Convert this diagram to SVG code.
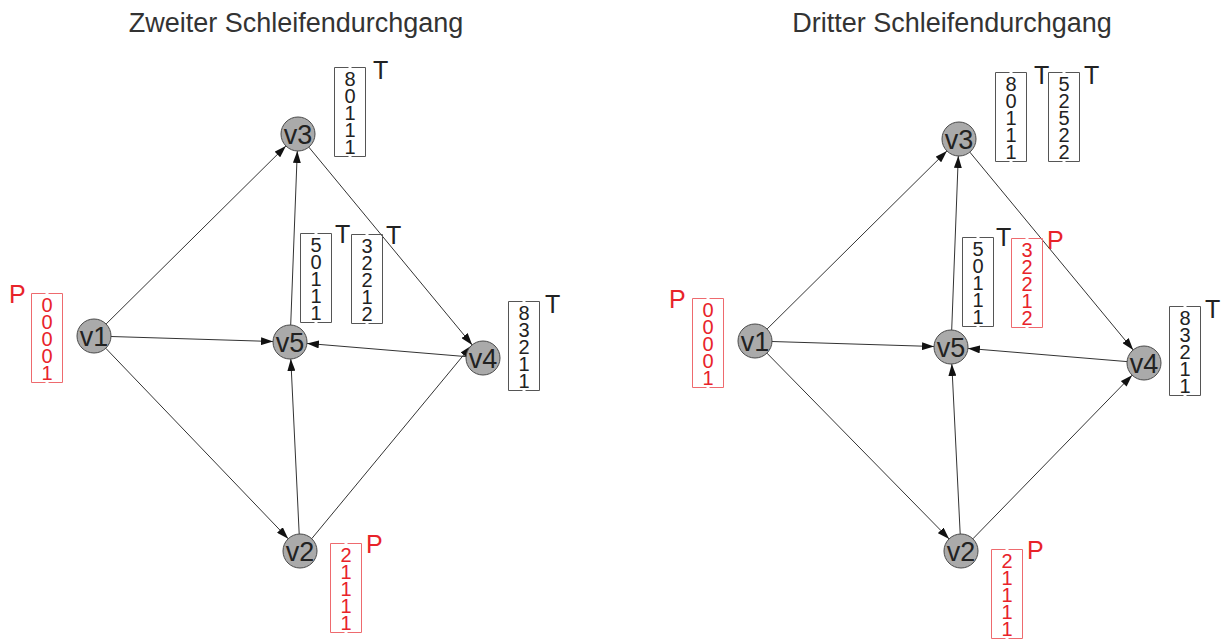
<svg xmlns="http://www.w3.org/2000/svg" width="1226" height="641" viewBox="0 0 1226 641">
  <style>
    .title { font-family: "Liberation Sans", Arial, sans-serif; font-size: 27px; fill: #333; text-anchor: middle; }
    .node circle { fill: #aaaaaa; stroke: #4a4a4a; stroke-width: 1; }
    .node text { font-family: "Liberation Sans", Arial, sans-serif; font-size: 27px; fill: #222; text-anchor: middle; }
    .edges line { stroke: #333; stroke-width: 1; marker-end: url(#arrow); }
    .vec text { font-family: "Liberation Sans", Arial, sans-serif; font-size: 20px; text-anchor: middle; }
    .vec .tag { font-size: 25px; text-anchor: start; }
    .blk { color: #555; }
    .blk text { fill: #222; }
    .red { color: #ee6a6e; }
    .red text { fill: #e8232a; }
  </style>
  <defs>
    <marker id="arrow" markerUnits="userSpaceOnUse" markerWidth="12" markerHeight="8" refX="12" refY="4" orient="auto">
      <path d="M0,0 L12,4 L0,8 Z" fill="#111"/>
    </marker>
    <!-- column-vector bracket pair, 32 x 90 -->
    <symbol id="bracket" overflow="visible">
      <path d="M14.5,0.5 H0.5 V89.5 H14.5 M17.5,0.5 H31.5 V89.5 H17.5" fill="none" stroke="currentColor" stroke-width="1"/>
    </symbol>
  </defs>

  <text class="title" x="296" y="32">Zweiter Schleifendurchgang</text>
  <text class="title" x="952" y="32">Dritter Schleifendurchgang</text>

  <!-- left graph connectors -->
  <g id="edges-left" class="edges">
    <line x1="106.1" y1="324.0" x2="285.9" y2="146.0"/>
    <line x1="111.0" y1="336.5" x2="273.0" y2="341.5"/>
    <line x1="105.8" y1="348.3" x2="288.2" y2="538.7"/>
    <line x1="308.8" y1="147.1" x2="472.2" y2="344.9"/>
    <line x1="466.1" y1="356.6" x2="306.9" y2="343.4"/>
    <line x1="290.7" y1="325.0" x2="297.3" y2="151.0"/>
    <line x1="299.2" y1="534.0" x2="290.8" y2="359.0"/>
    <line x1="311.7" y1="538.7" x2="471.3" y2="345.7"/>
  </g>

  <!-- right graph connectors -->
  <g id="edges-right" class="edges">
    <line x1="767.1" y1="329.0" x2="946.9" y2="151.0"/>
    <line x1="772.0" y1="341.5" x2="934.0" y2="346.5"/>
    <line x1="766.9" y1="353.1" x2="949.1" y2="538.9"/>
    <line x1="969.8" y1="152.1" x2="1133.2" y2="349.9"/>
    <line x1="1127.1" y1="361.6" x2="967.9" y2="348.4"/>
    <line x1="951.7" y1="330.0" x2="958.3" y2="156.0"/>
    <line x1="960.2" y1="534.0" x2="951.8" y2="364.0"/>
    <line x1="972.9" y1="538.8" x2="1132.1" y2="375.2"/>
  </g>

  <!-- left graph nodes -->
  <g id="L-v1" class="node"><circle cx="94" cy="336" r="17"/><text x="94" y="346">v1</text></g>
  <g id="L-v3" class="node"><circle cx="298" cy="134" r="17"/><text x="298" y="144">v3</text></g>
  <g id="L-v5" class="node"><circle cx="290" cy="342" r="17"/><text x="290" y="352">v5</text></g>
  <g id="L-v4" class="node"><circle cx="483" cy="358" r="17"/><text x="483" y="368">v4</text></g>
  <g id="L-v2" class="node"><circle cx="300" cy="551" r="17"/><text x="300" y="561">v2</text></g>

  <!-- right graph nodes -->
  <g id="R-v1" class="node"><circle cx="755" cy="341" r="17"/><text x="755" y="351">v1</text></g>
  <g id="R-v3" class="node"><circle cx="959" cy="139" r="17"/><text x="959" y="149">v3</text></g>
  <g id="R-v5" class="node"><circle cx="951" cy="347" r="17"/><text x="951" y="357">v5</text></g>
  <g id="R-v4" class="node"><circle cx="1144" cy="363" r="17"/><text x="1144" y="373">v4</text></g>
  <g id="R-v2" class="node"><circle cx="961" cy="551" r="17"/><text x="961" y="561">v2</text></g>

  <!-- left graph vectors -->
  <g id="L-vec-v1" class="vec red">
    <use href="#bracket" x="31" y="293"/>
    <text class="tag" x="9" y="303">P</text>
    <text><tspan x="47" y="312">0</tspan><tspan x="47" dy="17">0</tspan><tspan x="47" dy="17">0</tspan><tspan x="47" dy="17">0</tspan><tspan x="47" dy="17">1</tspan></text>
  </g>
  <g id="L-vec-v3" class="vec blk">
    <use href="#bracket" x="334" y="67"/>
    <text class="tag" x="373" y="79">T</text>
    <text><tspan x="350" y="86">8</tspan><tspan x="350" dy="17">0</tspan><tspan x="350" dy="17">1</tspan><tspan x="350" dy="17">1</tspan><tspan x="350" dy="17">1</tspan></text>
  </g>
  <g id="L-vec-v5a" class="vec blk">
    <use href="#bracket" x="300" y="233"/>
    <text class="tag" x="335" y="243">T</text>
    <text><tspan x="316" y="252">5</tspan><tspan x="316" dy="17">0</tspan><tspan x="316" dy="17">1</tspan><tspan x="316" dy="17">1</tspan><tspan x="316" dy="17">1</tspan></text>
  </g>
  <g id="L-vec-v5b" class="vec blk">
    <use href="#bracket" x="351" y="234"/>
    <text class="tag" x="386" y="244">T</text>
    <text><tspan x="367" y="253">3</tspan><tspan x="367" dy="17">2</tspan><tspan x="367" dy="17">2</tspan><tspan x="367" dy="17">1</tspan><tspan x="367" dy="17">2</tspan></text>
  </g>
  <g id="L-vec-v4" class="vec blk">
    <use href="#bracket" x="508" y="301"/>
    <text class="tag" x="545" y="313">T</text>
    <text><tspan x="524" y="320">8</tspan><tspan x="524" dy="17">3</tspan><tspan x="524" dy="17">2</tspan><tspan x="524" dy="17">1</tspan><tspan x="524" dy="17">1</tspan></text>
  </g>
  <g id="L-vec-v2" class="vec red">
    <use href="#bracket" x="330" y="543"/>
    <text class="tag" x="366" y="553">P</text>
    <text><tspan x="346" y="562">2</tspan><tspan x="346" dy="17">1</tspan><tspan x="346" dy="17">1</tspan><tspan x="346" dy="17">1</tspan><tspan x="346" dy="17">1</tspan></text>
  </g>

  <!-- right graph vectors -->
  <g id="R-vec-v1" class="vec red">
    <use href="#bracket" x="692" y="298"/>
    <text class="tag" x="669" y="308">P</text>
    <text><tspan x="708" y="317">0</tspan><tspan x="708" dy="17">0</tspan><tspan x="708" dy="17">0</tspan><tspan x="708" dy="17">0</tspan><tspan x="708" dy="17">1</tspan></text>
  </g>
  <g id="R-vec-v3a" class="vec blk">
    <use href="#bracket" x="995" y="72"/>
    <text class="tag" x="1034" y="84">T</text>
    <text><tspan x="1011" y="91">8</tspan><tspan x="1011" dy="17">0</tspan><tspan x="1011" dy="17">1</tspan><tspan x="1011" dy="17">1</tspan><tspan x="1011" dy="17">1</tspan></text>
  </g>
  <g id="R-vec-v3b" class="vec blk">
    <use href="#bracket" x="1048" y="72"/>
    <text class="tag" x="1084" y="84">T</text>
    <text><tspan x="1064" y="91">5</tspan><tspan x="1064" dy="17">2</tspan><tspan x="1064" dy="17">5</tspan><tspan x="1064" dy="17">2</tspan><tspan x="1064" dy="17">2</tspan></text>
  </g>
  <g id="R-vec-v5a" class="vec blk">
    <use href="#bracket" x="962" y="237"/>
    <text class="tag" x="996" y="246">T</text>
    <text><tspan x="978" y="256">5</tspan><tspan x="978" dy="17">0</tspan><tspan x="978" dy="17">1</tspan><tspan x="978" dy="17">1</tspan><tspan x="978" dy="17">1</tspan></text>
  </g>
  <g id="R-vec-v5b" class="vec red">
    <use href="#bracket" x="1011" y="238"/>
    <text class="tag" x="1047" y="249">P</text>
    <text><tspan x="1027" y="257">3</tspan><tspan x="1027" dy="17">2</tspan><tspan x="1027" dy="17">2</tspan><tspan x="1027" dy="17">1</tspan><tspan x="1027" dy="17">2</tspan></text>
  </g>
  <g id="R-vec-v4" class="vec blk">
    <use href="#bracket" x="1169" y="306"/>
    <text class="tag" x="1205" y="318">T</text>
    <text><tspan x="1185" y="325">8</tspan><tspan x="1185" dy="17">3</tspan><tspan x="1185" dy="17">2</tspan><tspan x="1185" dy="17">1</tspan><tspan x="1185" dy="17">1</tspan></text>
  </g>
  <g id="R-vec-v2" class="vec red">
    <use href="#bracket" x="991" y="549"/>
    <text class="tag" x="1027" y="559">P</text>
    <text><tspan x="1007" y="568">2</tspan><tspan x="1007" dy="17">1</tspan><tspan x="1007" dy="17">1</tspan><tspan x="1007" dy="17">1</tspan><tspan x="1007" dy="17">1</tspan></text>
  </g>
</svg>
